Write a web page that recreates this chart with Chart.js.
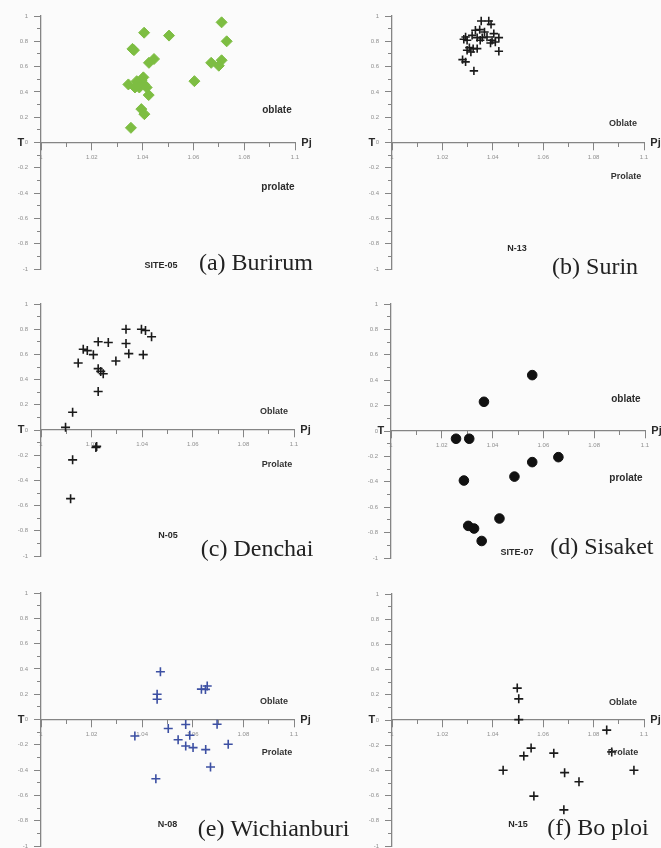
<!DOCTYPE html>
<html>
<head>
<meta charset="utf-8">
<script src="https://cdn.jsdelivr.net/npm/chart.js@4.4.1/dist/chart.umd.min.js"></script>
<style>
  html, body { margin: 0; padding: 0; background: #fbfbfb; overflow: hidden; }
  body { width: 661px; height: 848px; position: relative; }
  canvas { position: absolute; }
</style>
</head>
<body>
<canvas id="cA"></canvas>
<canvas id="cB"></canvas>
<canvas id="cC"></canvas>
<canvas id="cD"></canvas>
<canvas id="cE"></canvas>
<canvas id="cF"></canvas>
<script>
// Pj / T values
const burirumPj = [1.0711, 1.0731, 1.0504, 1.0406, 1.0360, 1.0366, 1.0445, 1.0425, 1.0670, 1.0711, 1.0700, 1.0604,
  1.0344, 1.0377, 1.0396, 1.0406, 1.0387, 1.0416, 1.0370, 1.0403, 1.0424, 1.0395, 1.0407, 1.0354];
const burirumT = [0.95, 0.80, 0.845, 0.868, 0.74, 0.73, 0.66, 0.63, 0.63, 0.65, 0.607, 0.485,
  0.459, 0.485, 0.493, 0.459, 0.435, 0.435, 0.435, 0.515, 0.375, 0.264, 0.224, 0.116];

const surinPj = [1.0354, 1.0384, 1.0393, 1.0331, 1.0348, 1.0367, 1.0292, 1.0318, 1.0338, 1.0358, 1.0298, 1.0285, 1.0377, 1.0404,
  1.0424, 1.0397, 1.0410, 1.0391, 1.0307, 1.0322, 1.0338, 1.0298, 1.0424, 1.0313, 1.0280, 1.0292, 1.0325, 1.0350];
const surinT = [0.96, 0.96, 0.934, 0.887, 0.892, 0.874, 0.834, 0.847, 0.829, 0.829, 0.808, 0.816, 0.834, 0.861,
  0.829, 0.808, 0.795, 0.787, 0.75, 0.742, 0.742, 0.729, 0.721, 0.716, 0.655, 0.637, 0.566, 0.808];

const denchaiPj = [1.0336, 1.0397, 1.0413, 1.0437, 1.0336, 1.0347, 1.0404, 1.0226, 1.0266, 1.0167, 1.0183, 1.0207,
  1.0147, 1.0296, 1.0226, 1.0236, 1.0246, 1.0226, 1.0125, 1.0097, 1.0217, 1.0220, 1.0125, 1.0117];
const denchaiT = [0.80, 0.80, 0.79, 0.74, 0.686, 0.606, 0.598, 0.70, 0.694, 0.641, 0.63, 0.598,
  0.532, 0.548, 0.487, 0.465, 0.447, 0.306, 0.141, 0.021, -0.138, -0.13, -0.237, -0.545];

const sisaketPj = [1.0556, 1.0366, 1.0256, 1.0308, 1.0659, 1.0556, 1.0486, 1.0287, 1.0427, 1.0304, 1.0327, 1.0357];
const sisaketT = [0.44, 0.23, -0.061, -0.061, -0.206, -0.245, -0.359, -0.39, -0.689, -0.747, -0.768, -0.866];

const wichianburiPj = [1.0472, 1.0459, 1.0459, 1.0634, 1.0657, 1.0650, 1.0371, 1.0503, 1.0572, 1.0696, 1.0542, 1.0588,
  1.0572, 1.0601, 1.0651, 1.0740, 1.0670, 1.0454];
const wichianburiT = [0.378, 0.20, 0.16, 0.24, 0.265, 0.238, -0.13, -0.071, -0.04, -0.037, -0.16, -0.124,
  -0.21, -0.222, -0.238, -0.196, -0.376, -0.468];

const boploiPj = [1.0497, 1.0503, 1.0503, 1.0852, 1.0872, 1.0960, 1.0441, 1.0523, 1.0552, 1.0642, 1.0685, 1.0742, 1.0563, 1.0682];
const boploiT = [0.253, 0.168, 0.003, -0.08, -0.253, -0.399, -0.399, -0.285, -0.223, -0.263, -0.418, -0.49, -0.604, -0.713];

// axis ranges and steps
const pjRange = [1.0, 1.1];
const tRange = [-1, 1];
const pjMajorStep = 0.02, pjMinorStep = 0.01;
const tMajorStep = 0.2, tMinorStep = 0.1;

const axisColor = '#858585';
const tickTextColor = '#8f8f8f';
const sans = 'Liberation Sans, Arial, sans-serif';
const serif = 'Liberation Serif, Times New Roman, serif';

// tick text like the original: 1, 1.02, 1.1, -0.8, 0
const plainNum = v => String(+(+v).toFixed(2));

// draws the panel words (oblate / prolate, site code, caption, axis letters) at data positions
const panelText = {
  id: 'panelText',
  afterDraw(chart, args, opts) {
    const ctx = chart.ctx;
    const sx = chart.scales.x, sy = chart.scales.y;
    ctx.save();
    opts.items.forEach(t => {
      ctx.font = t.font;
      ctx.fillStyle = t.color || '#2a2a2a';
      ctx.textAlign = t.align || 'center';
      ctx.textBaseline = 'middle';
      ctx.fillText(t.text, sx.getPixelForValue(t.x), sy.getPixelForValue(t.y));
    });
    ctx.restore();
  }
};

function makePanel(id, box, pj, t, point, words) {
  const cv = document.getElementById(id);
  cv.width = box.w; cv.height = box.h;
  cv.style.left = box.left + 'px';
  cv.style.top = box.top + 'px';
  const tickFont = { size: 6, family: sans };
  new Chart(cv, {
    type: 'scatter',
    data: {
      datasets: [{
        data: pj.map((v, i) => ({ x: v, y: t[i] })),
        pointStyle: point.style,
        radius: point.radius,
        hoverRadius: point.radius,
        borderWidth: point.width,
        borderColor: point.color,
        backgroundColor: point.color,
        clip: false
      }]
    },
    plugins: [panelText],
    options: {
      responsive: false,
      animation: false,
      events: [],
      layout: { padding: { left: 0, top: 16, bottom: box.h - 16 - box.plotH, right: box.w - 41 - box.plotW } },
      plugins: { legend: { display: false }, tooltip: { enabled: false }, panelText: { items: words } },
      scales: {
        x: {
          type: 'linear', min: pjRange[0], max: pjRange[1], position: { y: 0 },
          border: { color: axisColor, width: 1.3 },
          grid: { drawOnChartArea: false, tickLength: 7, tickColor: axisColor, tickWidth: 1 },
          ticks: { stepSize: pjMajorStep, padding: 4, font: tickFont, color: tickTextColor, autoSkip: false, maxRotation: 0, callback: plainNum }
        },
        x2: {
          type: 'linear', axis: 'x', min: pjRange[0], max: pjRange[1], position: { y: 0 },
          border: { display: false },
          grid: { drawOnChartArea: false, tickLength: 4, tickColor: axisColor, tickWidth: 1 },
          ticks: { stepSize: pjMinorStep, display: false, autoSkip: false }
        },
        y: {
          type: 'linear', min: tRange[0], max: tRange[1], position: 'left',
          afterFit(scale) { scale.width = 41; },
          border: { color: axisColor, width: 1.3 },
          grid: { drawOnChartArea: false, tickLength: 7, tickColor: axisColor, tickWidth: 1 },
          ticks: { stepSize: tMajorStep, padding: 6, font: tickFont, color: tickTextColor, autoSkip: false, callback: plainNum }
        },
        y2: {
          type: 'linear', axis: 'y', min: tRange[0], max: tRange[1], position: { x: pjRange[0] },
          border: { display: false },
          grid: { drawOnChartArea: false, tickLength: 4, tickColor: axisColor, tickWidth: 1 },
          ticks: { stepSize: tMinorStep, display: false, autoSkip: false }
        }
      }
    }
  });
}

const boldSmall = 'bold 10px ' + sans;
const boldCap = 'bold 9px ' + sans;
const axisLetter = 'bold 11px ' + sans;
const caption = '24px ' + serif;

const green = { style: 'rectRot', radius: 5.5, width: 1, color: '#7dbd42' };
const blackCross = { style: 'cross', radius: 4.5, width: 1.6, color: '#1a1a1a' };
const blueCross = { style: 'cross', radius: 4.5, width: 1.6, color: '#3d50a3' };
const blackDot = { style: 'circle', radius: 4.8, width: 1, color: '#111111' };

makePanel('cA', { left: 0, top: 0, w: 385, h: 285, plotW: 254, plotH: 253 }, burirumPj, burirumT, green, [
  { text: 'oblate', x: 1.0929, y: 0.257, font: boldSmall },
  { text: 'prolate', x: 1.0933, y: -0.352, font: boldSmall },
  { text: 'SITE-05', x: 1.0472, y: -0.975, font: boldCap },
  { text: '(a) Burirum', x: 1.0846, y: -0.96, font: caption, color: '#222' },
  { text: 'T', x: 0.9921, y: 0, font: axisLetter },
  { text: 'Pj', x: 1.1025, y: 0, font: axisLetter, align: 'left' }
]);

makePanel('cB', { left: 351, top: 0, w: 310, h: 285, plotW: 252, plotH: 253 }, surinPj, surinT, { ...blackCross, radius: 4.2 }, [
  { text: 'Oblate', x: 1.0917, y: 0.148, font: boldCap, color: '#333' },
  { text: 'Prolate', x: 1.0929, y: -0.27, font: boldCap, color: '#333' },
  { text: 'N-13', x: 1.0496, y: -0.84, font: boldCap },
  { text: '(b) Surin', x: 1.0806, y: -0.99, font: caption, color: '#222' },
  { text: 'T', x: 0.9920, y: 0, font: axisLetter },
  { text: 'Pj', x: 1.1025, y: 0, font: axisLetter, align: 'left' }
]);

makePanel('cC', { left: 0, top: 288, w: 385, h: 284, plotW: 253, plotH: 252 }, denchaiPj, denchaiT, blackCross, [
  { text: 'Oblate', x: 1.0921, y: 0.143, font: boldCap, color: '#333' },
  { text: 'Prolate', x: 1.0933, y: -0.27, font: boldCap, color: '#333' },
  { text: 'N-05', x: 1.0502, y: -0.84, font: boldCap },
  { text: '(c) Denchai', x: 1.0854, y: -0.95, font: caption, color: '#222' },
  { text: 'T', x: 0.9921, y: 0, font: axisLetter },
  { text: 'Pj', x: 1.1025, y: 0, font: axisLetter, align: 'left' }
]);

makePanel('cD', { left: 350, top: 288, w: 311, h: 286, plotW: 254, plotH: 254 }, sisaketPj, sisaketT, blackDot, [
  { text: 'oblate', x: 1.0925, y: 0.25, font: boldSmall },
  { text: 'prolate', x: 1.0925, y: -0.37, font: boldSmall },
  { text: 'SITE-07', x: 1.0496, y: -0.953, font: boldCap },
  { text: '(d) Sisaket', x: 1.083, y: -0.92, font: caption, color: '#222' },
  { text: 'T', x: 0.9960, y: 0, font: axisLetter },
  { text: 'Pj', x: 1.1025, y: 0, font: axisLetter, align: 'left' }
]);

makePanel('cE', { left: 0, top: 577, w: 385, h: 285, plotW: 253, plotH: 253 }, wichianburiPj, wichianburiT, blueCross, [
  { text: 'Oblate', x: 1.0921, y: 0.142, font: boldCap, color: '#333' },
  { text: 'Prolate', x: 1.0933, y: -0.26, font: boldCap, color: '#333' },
  { text: 'N-08', x: 1.05, y: -0.83, font: boldCap },
  { text: '(e) Wichianburi', x: 1.062, y: -0.87, font: caption, color: '#222', align: 'left' },
  { text: 'T', x: 0.9921, y: 0, font: axisLetter },
  { text: 'Pj', x: 1.1025, y: 0, font: axisLetter, align: 'left' }
]);

makePanel('cF', { left: 351, top: 578, w: 310, h: 284, plotW: 252, plotH: 252 }, boploiPj, boploiT, blackCross, [
  { text: 'Oblate', x: 1.0917, y: 0.142, font: boldCap, color: '#333' },
  { text: 'Prolate', x: 1.0917, y: -0.26, font: boldCap, color: '#333' },
  { text: 'N-15', x: 1.05, y: -0.83, font: boldCap },
  { text: '(f) Bo ploi', x: 1.0817, y: -0.86, font: caption, color: '#222' },
  { text: 'T', x: 0.9920, y: 0, font: axisLetter },
  { text: 'Pj', x: 1.1025, y: 0, font: axisLetter, align: 'left' }
]);
</script>
</body>
</html>
